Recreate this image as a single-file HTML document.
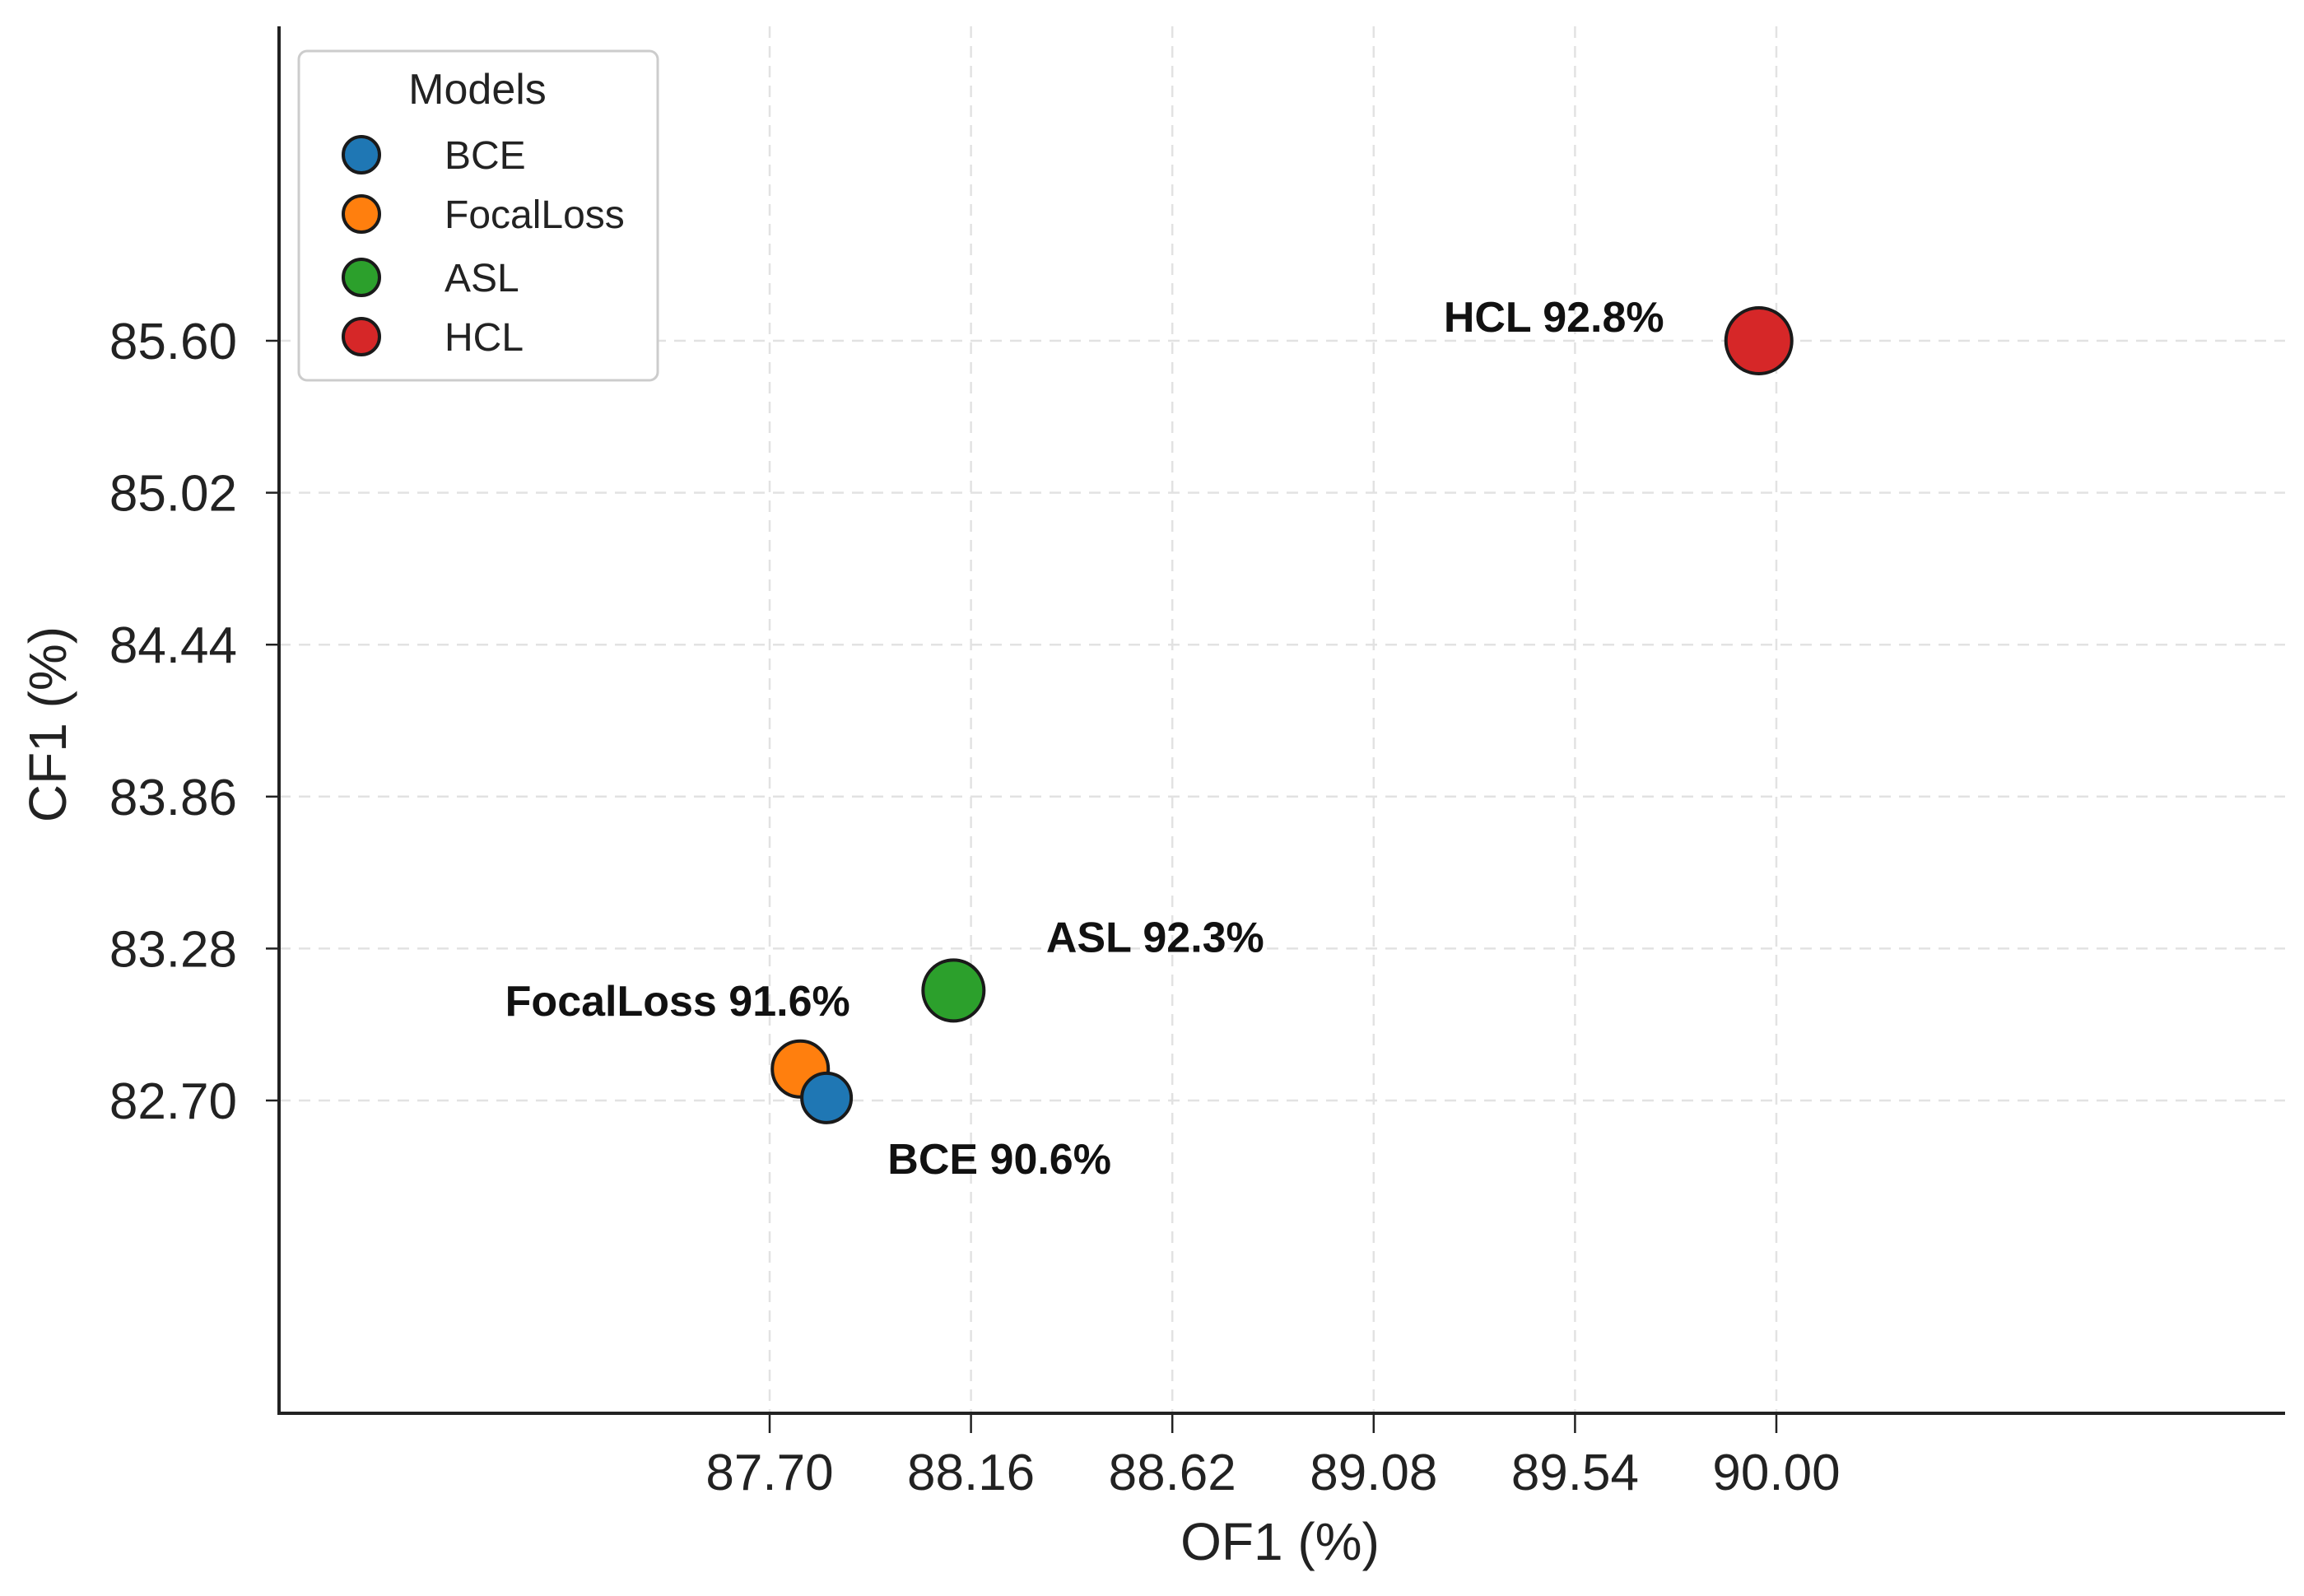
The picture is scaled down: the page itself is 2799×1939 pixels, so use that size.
<!DOCTYPE html>
<html><head><meta charset="utf-8"><style>
html,body{margin:0;padding:0;background:#fff}
svg{display:block;font-family:"Liberation Sans",Arial,sans-serif}
</style></head><body>
<svg id="chart" width="2799" height="1939" viewBox="0 0 2799 1939" xmlns="http://www.w3.org/2000/svg">
<g id="grid"></g>
<g id="axes"></g>
<g id="points"></g>
<g id="labels"></g>
<text x="1555" y="1895" font-size="64" text-anchor="middle" fill="#222">OF1 (%)</text>
<text x="0" y="0" font-size="64" text-anchor="middle" fill="#222" transform="translate(80,880) rotate(-90)">CF1 (%)</text>
<g>
<rect x="363" y="62" width="436" height="400" rx="10" fill="#fff" stroke="#ccc" stroke-width="3"/>
<text x="580" y="126" font-size="52" text-anchor="middle" fill="#222">Models</text>
<g id="legend-entries"></g>
</g>
</svg>
<script>
const models = ["BCE","FocalLoss","ASL","HCL"];
const of1 = [87.83, 87.77, 88.12, 89.96];
const cf1 = [82.71, 82.82, 83.12, 85.60];
const pct = ["90.6%","91.6%","92.3%","92.8%"];
const xTicks = [87.70, 88.16, 88.62, 89.08, 89.54, 90.00];
const yTicks = [82.70, 83.28, 83.86, 84.44, 85.02, 85.60];

const colors = ["#1f77b4","#ff7f0e","#2ca02c","#d62728"];
const radii = [30, 34, 37, 40];
const labelOff = [[210,92],[-149,-65],[245,-47],[-249,-11]];
const NS = "http://www.w3.org/2000/svg";
const X0=339, X1=2776, Y0=32, Y1=1717;
function xs(v){ return 935 + (v-87.70)/0.46*244.6; }
function ys(v){ return 1337 - (v-82.70)/0.58*184.6; }
function mk(tag, attrs, parent, txt){
  const e=document.createElementNS(NS,tag);
  for(const k in attrs) e.setAttribute(k,attrs[k]);
  if(txt!==undefined) e.textContent=txt;
  parent.appendChild(e); return e;
}
const grid=document.getElementById('grid'), axes=document.getElementById('axes');
xTicks.forEach(t=>{
  const x=xs(t);
  const g=mk('line',{x1:x,x2:x,y1:Y0,y2:Y1,stroke:'#e2e2e2','stroke-width':2.5,'stroke-dasharray':'14,10'},grid);
  
  
  const tk=mk('line',{x1:x,x2:x,y1:Y1,y2:Y1+24,stroke:'#222','stroke-width':2.5},axes);
  
  
  const lb=mk('text',{x:x,y:1810,'font-size':62,'text-anchor':'middle',fill:'#222'},axes,t.toFixed(2));
  
  
});
yTicks.forEach(t=>{
  const y=ys(t);
  const g=mk('line',{x1:X0,x2:X1,y1:y,y2:y,stroke:'#e2e2e2','stroke-width':2.5,'stroke-dasharray':'14,10'},grid);
  
  
  const tk=mk('line',{x1:X0-16,x2:X0,y1:y,y2:y,stroke:'#222','stroke-width':2.5},axes);
  
  
  const lb=mk('text',{x:288,y:y+22,'font-size':62,'text-anchor':'end',fill:'#222'},axes,t.toFixed(2));
  
  
});
const ya=mk('line',{x1:X0,x2:X0,y1:Y0,y2:Y1+2,stroke:'#222','stroke-width':4},axes);


const xa=mk('line',{x1:X0-2,x2:X1,y1:Y1,y2:Y1,stroke:'#222','stroke-width':4},axes);


const pts=document.getElementById('points'), lbs=document.getElementById('labels');
const order=[2,3,1,0];
order.forEach(i=>{
  const c=mk('circle',{cx:xs(of1[i]),cy:ys(cf1[i]),r:radii[i],fill:colors[i],stroke:'#1a1a1a','stroke-width':4},pts);
  
  
});
models.forEach((m,i)=>{
  const t=mk('text',{x:xs(of1[i])+labelOff[i][0],y:ys(cf1[i])+labelOff[i][1],'font-size':52,'font-weight':'bold','text-anchor':'middle',fill:'#111'},lbs,m+' '+pct[i]);
  
  
});
const le=document.getElementById('legend-entries');
const legY=[188,260,337,409];
models.forEach((m,i)=>{
  const c=mk('circle',{cx:439,cy:legY[i],r:22,fill:colors[i],stroke:'#1a1a1a','stroke-width':4},le);
  
  
  const t=mk('text',{x:540,y:legY[i]+17,'font-size':48,fill:'#222'},le,m);
  
  
});
</script>
</body></html>
